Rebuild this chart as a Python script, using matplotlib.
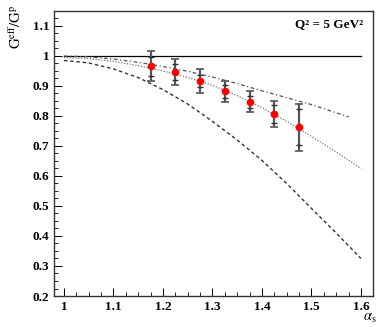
from matplotlib import pyplot as plt
from matplotlib.ticker import MultipleLocator

plt.rcParams['mathtext.fontset'] = 'stix'

# data
x_curve = [1.0, 1.05, 1.1, 1.15, 1.2, 1.25, 1.3, 1.35, 1.4, 1.45, 1.5, 1.55, 1.6]
dashed = [0.985, 0.977, 0.957, 0.928, 0.888, 0.84, 0.782, 0.72, 0.652, 0.575, 0.492, 0.41, 0.325]
dotted = [0.995, 0.991, 0.982, 0.968, 0.95, 0.929, 0.902, 0.868, 0.828, 0.782, 0.732, 0.68, 0.625]
x_dashdot = [1.0, 1.05, 1.1, 1.15, 1.2, 1.25, 1.3, 1.35, 1.4, 1.45, 1.5, 1.575]
dashdot = [1.0, 0.997, 0.99, 0.979, 0.965, 0.949, 0.93, 0.908, 0.884, 0.861, 0.838, 0.797]

x_pts = [1.175, 1.225, 1.275, 1.325, 1.375, 1.425, 1.475]
y_pts = [0.966, 0.946, 0.916, 0.882, 0.848, 0.807, 0.762]
err_tot = [0.05, 0.043, 0.04, 0.036, 0.036, 0.044, 0.078]
err_stat = [0.032, 0.026, 0.021, 0.022, 0.02, 0.03, 0.06]

serif = 'Liberation Serif'

fig = plt.figure(figsize=(3.82, 3.27), dpi=100)
ax = fig.add_axes([0.1414, 0.0948, 0.8346, 0.8716])

ax.plot([1.0, 1.6], [1.0, 1.0], color='black', lw=0.9)
ax.plot(x_curve, dashed, color='#333333', lw=1.0, linestyle=(0, (2.5, 2)))
ax.plot(x_curve, dotted, color='#777777', lw=0.9, linestyle=(0, (1, 1.3)))
ax.plot(x_dashdot, dashdot, color='#555555', lw=0.9, linestyle=(0, (3, 2, 1, 2)))

ax.errorbar(x_pts, y_pts, yerr=err_tot, fmt='none', ecolor='#555555',
            elinewidth=1.6, capsize=3, capthick=1.2)
ax.errorbar(x_pts, y_pts, yerr=err_stat, fmt='none', ecolor='#333333',
            elinewidth=0, capsize=2.5, capthick=1.0)
ax.plot(x_pts, y_pts, 'o', color='red', ms=4.5, mec='red', zorder=5)

ax.set_xlim(0.98, 1.624)
ax.set_ylim(0.2, 1.15)
ax.xaxis.set_minor_locator(MultipleLocator(0.025))
ax.yaxis.set_minor_locator(MultipleLocator(0.025))
ax.set_xticks([1, 1.1, 1.2, 1.3, 1.4, 1.5, 1.6])
ax.set_xticklabels(['1', '1.1', '1.2', '1.3', '1.4', '1.5', '1.6'])
ax.set_yticks([0.2, 0.3, 0.4, 0.5, 0.6, 0.7, 0.8, 0.9, 1.0, 1.1])
ax.set_yticklabels(['0.2', '0.3', '0.4', '0.5', '0.6', '0.7', '0.8', '0.9', '1', '1.1'])
ax.tick_params(which='both', direction='in', top=False, right=False)
ax.tick_params(which='major', length=6, width=0.7)
ax.tick_params(which='minor', length=3, width=0.6)
for lab in ax.get_xticklabels() + ax.get_yticklabels():
    lab.set_fontfamily(serif)
    lab.set_fontweight('bold')
    lab.set_fontsize(9.5)
for s in ax.spines.values():
    s.set_color('#333333')
    s.set_linewidth(1.0)

ax.text(0.97, 0.975, 'Q² = 5 GeV²', transform=ax.transAxes,
        ha='right', va='top', fontsize=9.5, fontweight='bold', family=serif)
fig.text(0.04, 0.985, r'$\mathrm{G^{eff}/G^{p}}$', rotation=90, ha='center', va='top',
         fontsize=10.5)
fig.text(0.985, 0.005, r'$\alpha_{\mathrm{s}}$', ha='right', va='bottom', fontsize=10.5)

plt.savefig('out.png', dpi=100)
